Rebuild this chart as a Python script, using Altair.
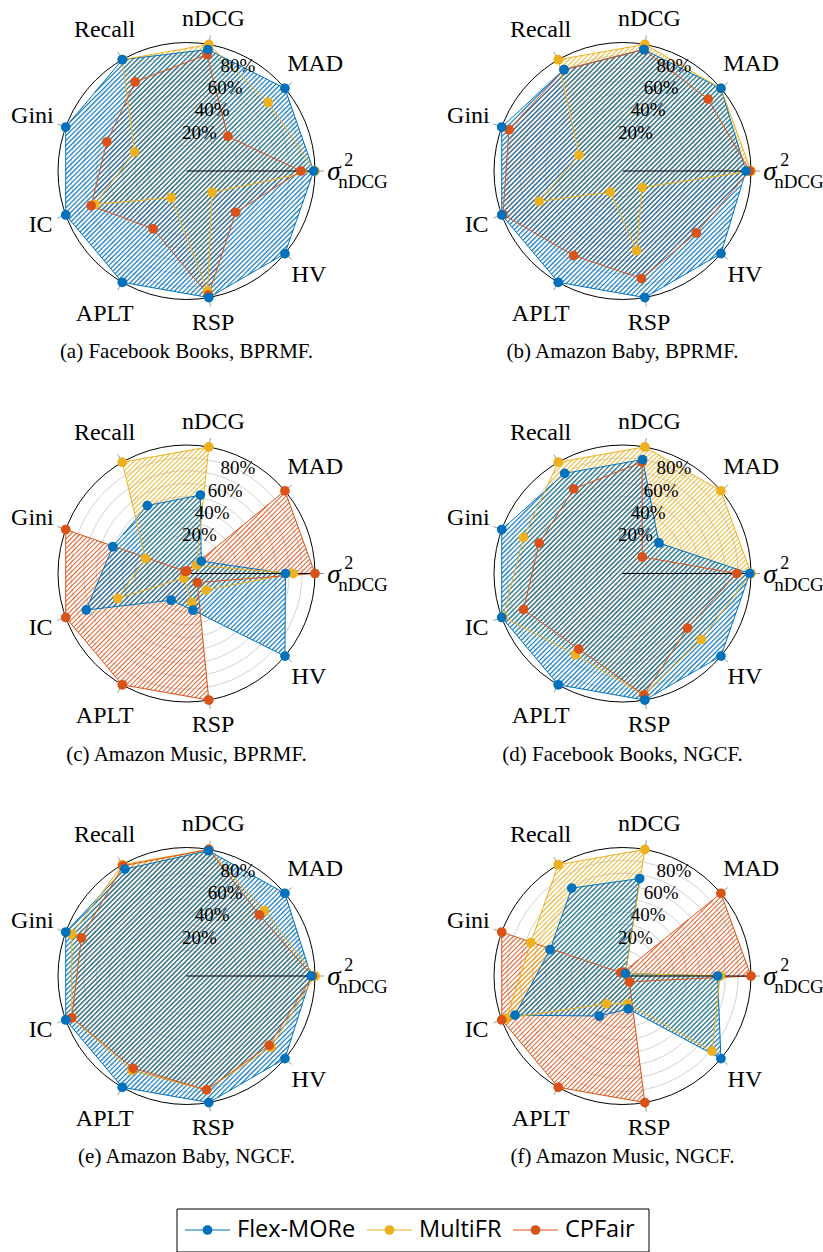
import math
import altair as alt
import pandas as pd

# Radar axes, counter-clockwise from the east, 40 degrees apart
AXES = ["σ2nDCG", "MAD", "nDCG", "Recall", "Gini", "IC", "APLT", "RSP", "HV"]
METHODS = ["Flex-MORe", "MultiFR", "CPFair"]
COLORS = ["#0072BD", "#EDB120", "#D95319"]

CAPTIONS = [
    "(a) Facebook Books, BPRMF.",
    "(b) Amazon Baby, BPRMF.",
    "(c) Amazon Music, BPRMF.",
    "(d) Facebook Books, NGCF.",
    "(e) Amazon Baby, NGCF.",
    "(f) Amazon Music, NGCF.",
]

# normalised scores (%) per panel, in AXES order
FLEX_MORE = [
    [99, 100, 96, 100, 100, 100, 100, 100, 100],
    [96, 100, 96, 91, 100, 100, 100, 100, 100],
    [77, 15, 62, 61, 61, 83, 24, 29, 100],
    [99, 37, 90, 90, 100, 100, 100, 100, 100],
    [97, 100, 99, 96, 100, 100, 100, 100, 100],
    [74, 3, 77, 79, 60, 89, 36, 26, 100],
]
MULTIFR = [
    [100, 83, 100, 100, 43, 76, 24, 95, 26],
    [100, 100, 100, 100, 36, 69, 19, 63, 20],
    [83, 10, 100, 100, 34, 57, 4, 23, 20],
    [100, 100, 100, 100, 82, 99, 73, 96, 80],
    [100, 79, 100, 100, 95, 95, 85, 90, 86],
    [76, 3, 100, 100, 76, 96, 25, 22, 91],
]
CPFAIR = [
    [89, 42, 92, 80, 66, 79, 52, 98, 50],
    [99, 87, 96, 91, 94, 99, 76, 85, 75],
    [100, 100, 2, 2, 100, 100, 100, 100, 11],
    [89, 20, 88, 76, 69, 82, 68, 96, 66],
    [98, 74, 100, 99, 87, 95, 83, 90, 84],
    [100, 100, 3, 3, 100, 100, 100, 100, 7],
]
SCORES = dict(zip(METHODS, [FLEX_MORE, MULTIFR, CPFAIR]))

TICK_LEVELS = [20, 40, 60, 80]
GRID_LEVELS = [10, 20, 30, 40, 50, 60, 70, 80, 90]

# figure layout (pixels)
W, H = 823, 1252
COL_X = [186.5, 622.5]
ROW_Y = [171.0, 573.5, 976.0]
R = 128.5            # radius of the 100 % circle
STEP = 40.0          # degrees between neighbouring axes
HATCH = 4.8          # horizontal period of the hatching
SERIF = "Liberation Serif"
SANS = "Open Sans"

# legend box and entry anchors
LEGEND_BOX = (177, 1209, 649, 1252)
LEGEND_ENTRY_X = [185, 367, 513]
LEGEND_Y = 1230
LEGEND_LINE = 45


def centre(p):
    return COL_X[p % 2], ROW_Y[p // 2]


def polar(p, value, angle_deg):
    cx, cy = centre(p)
    a = math.radians(angle_deg)
    r = value / 100.0 * R
    return cx + r * math.cos(a), cy - r * math.sin(a)


def hatch(poly):
    """Clip the global family of '/' lines (x + y = k*HATCH) to a polygon."""
    sums = [x + y for x, y in poly]
    segs = []
    for k in range(math.ceil(min(sums) / HATCH), math.floor(max(sums) / HATCH) + 1):
        c = k * HATCH
        hits = []
        for i in range(len(poly)):
            (x1, y1), (x2, y2) = poly[i], poly[(i + 1) % len(poly)]
            s1, s2 = x1 + y1, x2 + y2
            if (s1 <= c < s2) or (s2 <= c < s1):
                f = (c - s1) / (s2 - s1)
                hits.append((x1 + f * (x2 - x1), y1 + f * (y2 - y1)))
        hits.sort()
        for j in range(0, len(hits) - 1, 2):
            segs.append((hits[j], hits[j + 1]))
    return segs


def text_width(s, size):
    em = {"A": .722, "C": .667, "D": .722, "G": .722, "H": .722, "I": .333,
          "L": .611, "M": .889, "P": .556, "R": .667, "S": .556, "T": .611,
          "V": .722, "a": .444, "c": .444, "e": .444, "i": .278, "l": .278,
          "n": .5}
    return sum(em.get(ch, .5) for ch in s) * size


vertices, outlines, hatches = [], [], []
for p in range(6):
    for m in METHODS:
        vals = SCORES[m][p]
        poly = []
        for k, v in enumerate(vals):
            x, y = polar(p, v, k * STEP)
            poly.append((x, y))
            vertices.append({"panel": p, "method": m, "axis": AXES[k], "x": x, "y": y})
        for k, (x, y) in enumerate(poly + poly[:1]):
            outlines.append({"panel": p, "method": m, "k": k, "x": x, "y": y})
        for (a, b) in hatch(poly):
            hatches.append({"panel": p, "method": m, "x": a[0], "y": a[1], "x2": b[0], "y2": b[1]})

draw_rank = {"MultiFR": 0, "CPFair": 1, "Flex-MORe": 2}
points_df = pd.DataFrame(vertices)
points_df = points_df.assign(r=points_df["method"].map(draw_rank)).sort_values("r", kind="stable")
hatch_df = pd.DataFrame(hatches)
outline_df = pd.DataFrame(outlines)

grid_rows, frame_rows, spoke_rows, tick_rows, ticklab_rows = [], [], [], [], []
label_rows, sigma_rows, caption_rows = [], [], []
LABEL_SIZE = 24
for p in range(6):
    cx, cy = centre(p)
    for g in GRID_LEVELS:
        grid_rows.append({"x": cx, "y": cy, "s": (2 * R * g / 100.0) ** 2})
    frame_rows.append({"x": cx, "y": cy, "s": (2 * R) ** 2})
    x2, y2 = polar(p, 100, 0)
    spoke_rows.append({"x": cx, "y": cy, "x2": x2, "y2": y2})
    for k, name in enumerate(AXES):
        a = k * STEP
        xa, ya = polar(p, 97, a)
        xb, yb = polar(p, 107, a)
        tick_rows.append({"x": xa, "y": ya, "x2": xb, "y2": yb})
        if k == 0:
            xs, ys = polar(p, 109.5, 0)
            sigma_rows.append({"x": xs, "y": ys})
            continue
        rad = math.radians(a)
        hw = text_width(name, LABEL_SIZE) / 2
        hh = 0.36 * LABEL_SIZE
        extra = hw * abs(math.cos(rad)) + hh * abs(math.sin(rad))
        xl = cx + (141 + extra) * math.cos(rad)
        yl = cy - (141 + extra) * math.sin(rad)
        label_rows.append({"x": xl, "y": yl, "t": name})
    for t in TICK_LEVELS:
        xt, yt = polar(p, t, 60)
        ticklab_rows.append({"x": xt, "y": yt - 16, "t": f"{t}%"})
    caption_rows.append({"x": cx, "y": cy + 181, "t": CAPTIONS[p]})

legend_rows = []
for m, x0 in zip(METHODS, LEGEND_ENTRY_X):
    legend_rows.append({"method": m, "x": x0, "x2": x0 + LEGEND_LINE,
                        "xm": x0 + LEGEND_LINE / 2, "xt": x0 + LEGEND_LINE + 7,
                        "y": LEGEND_Y})
legend_df = pd.DataFrame(legend_rows)

xs_ = alt.Scale(domain=[0, W], nice=False, zero=False)
ys_ = alt.Scale(domain=[0, H], reverse=True, nice=False, zero=False)
X = alt.X("x:Q", scale=xs_, axis=None)
Y = alt.Y("y:Q", scale=ys_, axis=None)
X2 = alt.X2("x2:Q")
Y2 = alt.Y2("y2:Q")
method_scale = alt.Scale(domain=METHODS, range=COLORS)
color = alt.Color("method:N", scale=method_scale, legend=None)

grid = alt.Chart(pd.DataFrame(grid_rows)).mark_point(
    shape="circle", filled=False, color="#c8c8c8", strokeWidth=0.8, opacity=1
).encode(x=X, y=Y, size=alt.Size("s:Q", scale=None))

frame = alt.Chart(pd.DataFrame(frame_rows)).mark_point(
    shape="circle", filled=False, color="black", strokeWidth=1, opacity=1
).encode(x=X, y=Y, size=alt.Size("s:Q", scale=None))


def hatch_of(m, alpha, width):
    return alt.Chart(hatch_df[hatch_df["method"] == m]).mark_rule(
        strokeWidth=width, opacity=alpha
    ).encode(x=X, y=Y, x2=X2, y2=Y2, color=color)


# shared hatch lines: where polygons overlap the later layers tint the earlier ones
hatch_layers = [
    hatch_of("CPFair", 0.85, 1.1),
    hatch_of("MultiFR", 0.85, 1.1),
    hatch_of("Flex-MORe", 0.86, 1.3),
]

outline_layer = alt.Chart(outline_df).mark_line(strokeWidth=1).encode(
    x=X, y=Y, color=color, detail="panel:N", order="k:Q"
)

ticks = alt.Chart(pd.DataFrame(tick_rows)).mark_rule(color="#9a9a9a", strokeWidth=1).encode(
    x=X, y=Y, x2=X2, y2=Y2
)

spokes = alt.Chart(pd.DataFrame(spoke_rows)).mark_rule(color="black", strokeWidth=1).encode(
    x=X, y=Y, x2=X2, y2=Y2
)

points = alt.Chart(points_df).mark_circle(size=95, opacity=1).encode(
    x=X, y=Y, color=color, order=alt.Order("r:Q"),
)

tick_labels = alt.Chart(pd.DataFrame(ticklab_rows)).mark_text(
    font=SERIF, fontSize=19, color="black", align="center", baseline="middle"
).encode(x=X, y=Y, text="t:N")

axis_labels = alt.Chart(pd.DataFrame(label_rows)).mark_text(
    font=SERIF, fontSize=LABEL_SIZE, color="black", align="center", baseline="middle", dy=1
).encode(x=X, y=Y, text="t:N")

sigma_df = pd.DataFrame(sigma_rows)
sigma = alt.Chart(sigma_df).mark_text(
    font=SERIF, fontSize=27, fontStyle="italic", color="black", align="left",
    baseline="middle", dy=1
).encode(x=X, y=Y, text=alt.value("σ"))
sigma_sup = alt.Chart(sigma_df).mark_text(
    font=SERIF, fontSize=18, color="black", align="left", baseline="middle", dx=17, dy=-10
).encode(x=X, y=Y, text=alt.value("2"))
sigma_sub = alt.Chart(sigma_df).mark_text(
    font=SERIF, fontSize=19, color="black", align="left", baseline="middle", dx=11, dy=11
).encode(x=X, y=Y, text=alt.value("nDCG"))

captions = alt.Chart(pd.DataFrame(caption_rows)).mark_text(
    font=SERIF, fontSize=21, color="black", align="center", baseline="middle"
).encode(x=X, y=Y, text="t:N")

# legend drawn as its own little group of marks
box_df = pd.DataFrame([{"x": LEGEND_BOX[0], "y": LEGEND_BOX[1],
                        "x2": LEGEND_BOX[2], "y2": LEGEND_BOX[3]}])
legend_box = alt.Chart(box_df).mark_rect(
    fill="white", stroke="black", strokeWidth=1
).encode(x=X, y=Y, x2=X2, y2=Y2)
legend_lines = alt.Chart(legend_df).mark_rule(strokeWidth=1).encode(
    x=X, x2=X2, y=Y, color=color
)
legend_dots = alt.Chart(legend_df).mark_circle(size=95, opacity=1).encode(
    x=alt.X("xm:Q", scale=xs_, axis=None), y=Y, color=color
)
legend_text = alt.Chart(legend_df).mark_text(
    font=SANS, fontSize=23.5, color="black", align="left", baseline="middle"
).encode(x=alt.X("xt:Q", scale=xs_, axis=None), y=Y, text="method:N")

chart = alt.layer(
    grid, frame, *hatch_layers, outline_layer, ticks, spokes, points,
    tick_labels, axis_labels, sigma, sigma_sup, sigma_sub, captions,
    legend_box, legend_lines, legend_dots, legend_text,
).properties(
    width=W, height=H, padding=0, background="white",
    autosize=alt.AutoSizeParams(type="none"),
).configure_view(stroke=None)

chart.save("out.html", embed_options={"renderer": "svg", "actions": False})
